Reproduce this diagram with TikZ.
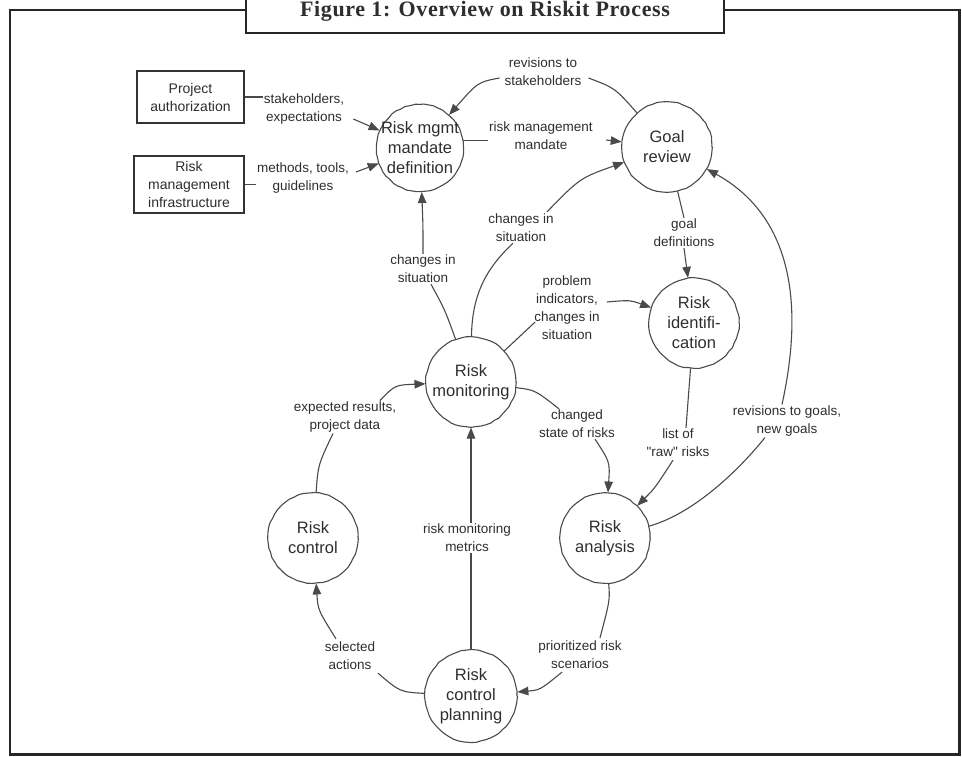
\documentclass[tikz,border=0pt]{standalone}
\usepackage{fontspec}
\newfontfamily\labfont{Liberation Sans}
\newfontfamily\titlefont{Liberation Serif}
\usetikzlibrary{arrows.meta,decorations.pathmorphing}
\definecolor{ink}{HTML}{4A4A4A}
\definecolor{framecol}{HTML}{262626}
\definecolor{txt}{HTML}{2E2E2E}
\begin{document}
\begin{tikzpicture}[x=1pt,y=-1pt,
  proc/.style={circle,draw=ink,line width=1.1pt,minimum size=90pt,inner sep=-9pt,
    align=center,text=txt,font=\labfont\fontsize{16.5}{20}\selectfont,
    decorate,decoration={random steps,segment length=5pt,amplitude=0.45pt}},
  srcbox/.style={rectangle,draw=black!80,line width=1.4pt,inner sep=0pt,align=center,
    text=txt,font=\labfont\fontsize{14}{18}\selectfont},
  lbl/.style={align=center,inner sep=1pt,text=txt,font=\labfont\fontsize{13.5}{18}\selectfont},
  conn/.style={draw=ink,line width=1.1pt},
  arr/.style={conn,-{Triangle[length=11pt,width=8.5pt]}}]
\useasboundingbox (0,0) rectangle (962,756);

% outer frame and caption tab
\draw[framecol,line width=2.4pt] (10,10) rectangle (959.5,754.5);
\node[draw=framecol,fill=white,line width=2.2pt,minimum width=478pt,minimum height=50pt,inner sep=0pt]
  (capbox) at (485,8) {};
\node[anchor=base,inner sep=0pt,font=\titlefont\bfseries\fontsize{22}{26}\selectfont,text=txt]
  (cap) at (485,16) {\addfontfeature{LetterSpace=3}Figure 1: Overview on Riskit Process};

% inputs
\node[srcbox,minimum width=107pt,minimum height=52pt] (auth) at (190.5,97) {Project\\authorization};
\node[srcbox,minimum width=110pt,minimum height=57pt] (infra) at (189,184.5) {Risk\\management\\infrastructure};

% process steps
\node[proc,minimum size=87pt] (mand) at (420,148) {Risk mgmt\\mandate\\definition};
\node[proc] (goal) at (667,147) {Goal\\review};
\node[proc] (ident) at (694,323) {Risk\\identifi-\\cation};
\node[proc] (moni) at (471,382) {Risk\\monitoring};
\node[proc] (ctrl) at (313,538) {Risk\\control};
\node[proc] (ana) at (605,538) {Risk\\analysis};
\node[proc,minimum size=92pt] (plan) at (471,696) {Risk\\control\\planning};

% flow labels
\node[lbl] (l1) at (304,109) {stakeholders,\\expectations};
\node[lbl] (l2) at (303,178) {methods, tools,\\guidelines};
\node[lbl] (l3) at (541,136) {risk management\\mandate};
\node[lbl] (l4) at (543,72) {revisions to\\stakeholders};
\node[lbl] (l5) at (423,269) {changes in\\situation};
\node[lbl] (l6) at (521,228) {changes in\\situation};
\node[lbl] (l7) at (567,308) {problem\\indicators,\\changes in\\situation};
\node[lbl] (l8) at (684,233) {goal\\definitions};
\node[lbl] (l9) at (678,443) {list of\\"raw" risks};
\node[lbl] (l10) at (577,424) {changed\\state of risks};
\node[lbl] (l11) at (787,421) {revisions to goals,\\new goals};
\node[lbl] (l12) at (467,538) {risk monitoring\\metrics};
\node[lbl] (l13) at (350,656) {selected\\actions};
\node[lbl] (l14) at (580,655) {prioritized risk\\scenarios};
\node[lbl] (l15) at (345,417) {expected results,\\project data};

% inputs to mandate definition
\draw[conn] (auth.east) -- (l1.west |- auth.east);
\draw[arr] ([shift={(8,10)}]l1.east) -- (mand);
\draw[conn] (infra.east) -- (l2.west |- infra.east);
\draw[arr] ([shift={(6,-6)}]l2.east) -- (mand);

% mandate <-> goal review
\draw[conn] (mand.10) -- (l3.west |- mand.10);
\draw[arr] ([shift={(12,4)}]l3.east) -- (goal);
\draw[conn] (goal) .. controls (615,88) .. ([shift={(6,6)}]l4.east);
\draw[arr] ([shift={(-4,6)}]l4.west) .. controls (478,82) .. (mand);

% monitoring feedback upwards
\draw[conn] (moni) .. controls (445,310) .. ([xshift=8pt]l5.south);
\draw[arr] (l5.north) .. controls (423,225) .. (mand);
\draw[conn] (moni) .. controls (472,290) and (490,265) .. ([xshift=-8pt]l6.south);
\draw[arr] ([shift={(26,-1)}]l6.north) .. controls (580,178) .. (goal);
\draw[conn] (moni) -- ([shift={(2,14)}]l7.west);
\draw[arr] ([shift={(6,-6)}]l7.east) .. controls (630,300) .. (ident);

% goal review -> identification -> analysis
\draw[conn] (goal) -- (l8.north);
\draw[arr] (l8.south) -- (ident);
\draw[conn] (ident) -- ([xshift=8pt]l9.north);
\draw[arr] ([shift={(-5,2)}]l9.south) .. controls (655,488) .. (ana);
\draw[conn] (moni) .. controls (535,390) .. ([xshift=-18pt]l10.north);
\draw[arr] ([xshift=18pt]l10.south) .. controls (610,462) .. (ana);

% analysis -> goal review
\draw[conn] (ana) .. controls (690,515) and (735,475) .. ([xshift=-22pt]l11.south);
\draw[arr] ([xshift=-5pt]l11.north) .. controls (805,300) and (790,215) .. (goal);

% planning and control loop
\draw[conn] (ana) .. controls (610,600) .. ([shift={(20,-2)}]l14.north);
\draw[arr] ([shift={(-18,2)}]l14.south) .. controls (540,690) .. (plan);
\draw[conn] (plan) .. controls (400,692) .. ([shift={(28,2)}]l13.south);
\draw[arr] ([shift={(-14,-2)}]l13.north) .. controls (318,610) .. (ctrl);
\draw[conn] (ctrl) .. controls (318,465) .. ([xshift=-12pt]l15.south);
\draw[arr] ([shift={(35,0)}]l15.north) .. controls (395,385) .. (moni);
\draw[conn] (plan) -- (plan |- l12.south);
\draw[arr] (plan |- l12.north) -- (moni);
\end{tikzpicture}
\end{document}
